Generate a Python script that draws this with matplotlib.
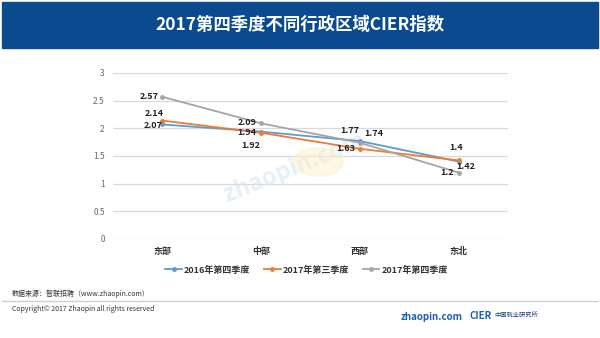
import matplotlib
matplotlib.use("Agg")
import matplotlib.pyplot as plt
from matplotlib.patches import Rectangle, Circle

plt.rcParams['font.family'] = ['Noto Sans CJK SC', 'DejaVu Sans']

regions = ["东部", "中部", "西部", "东北"]
series_names = ["2016年第四季度", "2017年第三季度", "2017年第四季度"]
q4_2016 = [2.07, 1.94, 1.77, 1.40]
q3_2017 = [2.14, 1.92, 1.63, 1.42]
q4_2017 = [2.57, 2.09, 1.74, 1.20]
y_ticks = [0, 0.5, 1, 1.5, 2, 2.5, 3]
title = "2017第四季度不同行政区域CIER指数"

colors = ["#5b9bd5", "#ed7d31", "#a5a5a5"]
# label offsets (pixels) per series and point
offsets = [
    [(-9, -1), (-14, -1), (-10, 11), (-3, 14)],
    [(-8, 7), (-10, -13), (-14, 0), (7, -6)],
    [(-13, 0), (-14, 1), (14, 9), (-12, 0)],
]

fig = plt.figure(figsize=(6, 3.38), dpi=100)
W, H = 600, 338

# header banner
fig.patches.append(Rectangle((2 / W, 1 - 48 / H), 596 / W, 46 / H,
                             transform=fig.transFigure, color="#0b4a8e", zorder=0))
fig.text(0.5, 1 - 25 / H, title, color="white", fontsize=12.5, fontweight="bold",
         ha="center", va="center")

ax = fig.add_axes([113 / W, 1 - 239 / H, 395 / W, 166 / H])
x = list(range(len(regions)))
for vals, col, offs in zip([q4_2016, q3_2017, q4_2017], colors, offsets):
    ax.plot(x, vals, color=col, lw=1.3, marker="o", ms=2.5, zorder=3)
    for xi, v, (dx, dy) in zip(x, vals, offs):
        ax.annotate(f"{v:g}", (xi, v), xytext=(dx, dy), textcoords="offset pixels",
                    ha="center", va="center", fontsize=6.5, fontweight="bold",
                    color="#222222", zorder=5)

ax.set_xlim(-0.5, 3.5)
ax.set_ylim(0, 3)
ax.set_yticks(y_ticks)
ax.set_yticklabels([f"{t:g}" for t in y_ticks], fontsize=6, color="#666666")
ax.set_xticks(x)
ax.set_xticklabels(regions, fontsize=6.5, fontweight="bold", color="#333333")
ax.tick_params(length=0, pad=6)
ax.tick_params(axis="x", pad=6)
ax.grid(axis="y", color="#d9d9d9", lw=0.9)
ax.set_axisbelow(True)
for s in ax.spines.values():
    s.set_visible(False)

# faint watermark
fig.patches.append(Circle((318 / W, 1 - 162 / H), 0.042, transform=fig.transFigure,
                          color="#fcefc2", alpha=0.45, zorder=0))
ax.text(0.46, 0.43, "zhaopin.com", transform=ax.transAxes, fontsize=17,
        fontweight="bold", color="#d3e3f3", alpha=0.55, rotation=22,
        ha="center", va="center", zorder=1)

leg = ax.legend(series_names, loc="upper center", bbox_to_anchor=(0.49, -0.11),
                ncol=3, frameon=False, fontsize=6.5, handlelength=1.8,
                columnspacing=1.6, handletextpad=0.2)
for t in leg.get_texts():
    t.set_fontweight("bold")
    t.set_color("#333333")

# footer
fig.text(12 / W, 1 - 294 / H, "数据来源：智联招聘（www.zhaopin.com）", fontsize=5,
         color="#333333", va="center")
fig.add_artist(plt.Line2D([2 / W, 598 / W], [1 - 301 / H, 1 - 301 / H],
                          transform=fig.transFigure, color="#d0d0d0", lw=1))
fig.text(12 / W, 1 - 309 / H, "Copyright© 2017 Zhaopin all rights reserved", fontsize=5,
         color="#333333", va="center")
fig.text(432 / W, 1 - 317 / H, "zhaopin.com", fontsize=7, fontweight="bold",
         color="#1f5fb0", ha="center", va="center")
fig.text(469 / W, 1 - 316 / H, "CIER", fontsize=7, fontweight="bold",
         color="#1f5fb0", ha="left", va="center")
fig.text(494 / W, 1 - 315 / H, "中国就业研究所", fontsize=4.5,
         color="#1f3f7f", ha="left", va="center")

fig.savefig("out.png", dpi=100)
